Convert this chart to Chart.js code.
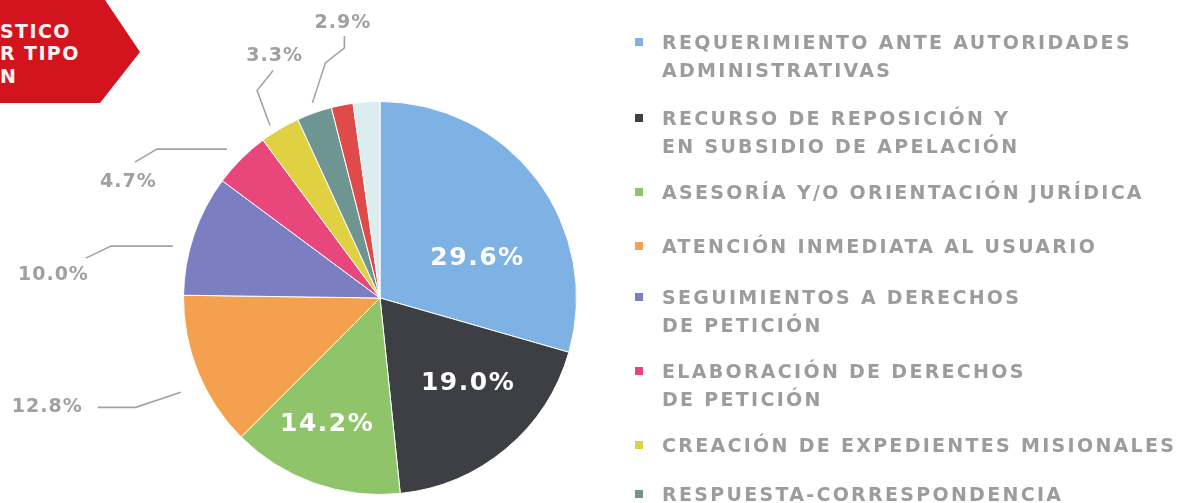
<!DOCTYPE html>
<html>
<head>
<meta charset="utf-8">
<script src="https://cdn.jsdelivr.net/npm/chart.js@4"></script>
<style>
  html, body { margin: 0; padding: 0; background: #ffffff; }
  body { width: 1197px; height: 503px; position: relative; overflow: hidden; font-family: 'DejaVu Sans', sans-serif; }
  #chartWrap { position: absolute; left: 0; top: 0; width: 1197px; height: 503px; }
  #banner {
    position: absolute; left: 0; top: 0; width: 140px; height: 103px;
    background: #d3141e;
    clip-path: polygon(0 0, 105px 0, 140px 52px, 100px 103px, 0 103px);
  }
  #banner div { position: absolute; left: 0; color: #fdf2f2; font-weight: bold; font-size: 19px; line-height: 22px; letter-spacing: 1.4px; }
  .legend-item { position: absolute; left: 635px; }
  .legend-item .sw { position: absolute; left: 0; top: 10px; width: 8px; height: 8px; }
  .legend-item .tx { position: absolute; left: 27px; top: 0; white-space: nowrap; color: #9c9c9c; font-weight: bold; font-size: 19px; line-height: 28px; letter-spacing: 2.3px; }
</style>
</head>
<body>
<div id="chartWrap"><canvas id="pieChart"></canvas></div>
<div id="banner">
  <div style="top:20px">STICO</div>
  <div style="top:42px">R TIPO</div>
  <div style="top:65px">N</div>
</div>
<div id="legend"></div>
<script>
// datos
const categorias = [
    ['REQUERIMIENTO ANTE AUTORIDADES', 'ADMINISTRATIVAS'],
    ['RECURSO DE REPOSICIÓN Y', 'EN SUBSIDIO DE APELACIÓN'],
    ['ASESORÍA Y/O ORIENTACIÓN JURÍDICA'],
    ['ATENCIÓN INMEDIATA AL USUARIO'],
    ['SEGUIMIENTOS A DERECHOS', 'DE PETICIÓN'],
    ['ELABORACIÓN DE DERECHOS', 'DE PETICIÓN'],
    ['CREACIÓN DE EXPEDIENTES MISIONALES'],
    ['RESPUESTA-CORRESPONDENCIA'],
    null,
    null
];
const porcentajes = [29.6, 19.0, 14.2, 12.8, 10.0, 4.7, 3.3, 2.9, 1.8, 2.2];

const colores = ['#7eb2e4', '#3e3f45', '#8fc46b', '#f4a14f', '#7b7fc1', '#e9467b', '#e0d143', '#6f9593', '#e04a48', '#dcecef'];

// posicion de las etiquetas internas (desplazamiento desde el centro del sector)
const etiquetasInternas = {
    0: { dx: 19, dy: 20 },
    1: { dx: 25, dy: 10 },
    2: { dx: -20, dy: 34 }
};

// lineas guia de las etiquetas externas
const etiquetasExternas = {
    3: { t: 0.43, gap: 24, pts: [[-45, 15], [-83, 15]], label: [-98, 15], align: 'right' },
    4: { t: 0.37, gap: 17, pts: [[-62, 0], [-87, 12]], label: [-84, 29], align: 'right' },
    5: { t: 0.45, gap: 17, pts: [[-70, 0], [-92, 13]], label: [-98.5, 33], align: 'center' },
    6: { t: 0.34, gap: 8, pts: [[-13, -35], [3, -55]], label: [4.5, -69], align: 'center' },
    7: { t: 0.54, gap: 10, pts: [[13, -40], [32, -55], [32, -67]], label: [30.5, -80], align: 'center' }
};

const legendTops = [28, 104, 178, 232, 283, 357, 431, 480];

const legendEl = document.getElementById('legend');
categorias.forEach(function(lineas, i) {
    if (!lineas) return;
    const item = document.createElement('div');
    item.className = 'legend-item';
    item.style.top = legendTops[i] + 'px';
    const sw = document.createElement('div');
    sw.className = 'sw';
    sw.style.background = colores[i];
    const tx = document.createElement('div');
    tx.className = 'tx';
    tx.innerHTML = lineas.join('<br>');
    item.appendChild(sw);
    item.appendChild(tx);
    legendEl.appendChild(item);
});

const fmt = function(v) { return v.toFixed(1) + '%'; };

const labelsPlugin = {
    id: 'labelsPlugin',
    afterDatasetsDraw(chart) {
        const ctx = chart.ctx;
        const meta = chart.getDatasetMeta(0);
        ctx.save();
        ctx.textBaseline = 'middle';

        // etiquetas dentro del pastel
        ctx.fillStyle = '#ffffff';
        ctx.font = 'bold 25px "DejaVu Sans"';
        ctx.letterSpacing = '1.5px';
        ctx.textAlign = 'center';
        Object.keys(etiquetasInternas).forEach(function(k) {
            const arc = meta.data[k];
            const p = arc.tooltipPosition();
            const o = etiquetasInternas[k];
            ctx.fillText(fmt(porcentajes[k]), p.x + o.dx, p.y + o.dy);
        });

        // etiquetas externas con linea guia
        ctx.strokeStyle = '#a3a3a3';
        ctx.lineWidth = 1.6;
        ctx.fillStyle = '#a0a0a0';
        ctx.font = 'bold 19px "DejaVu Sans"';
        ctx.letterSpacing = '1px';
        Object.keys(etiquetasExternas).forEach(function(k) {
            const arc = meta.data[k];
            const props = arc.getProps(['x', 'y', 'startAngle', 'endAngle', 'outerRadius'], true);
            const c = etiquetasExternas[k];
            const ang = props.startAngle + c.t * (props.endAngle - props.startAngle);
            const r = props.outerRadius + c.gap;
            const ax = props.x + r * Math.cos(ang);
            const ay = props.y + r * Math.sin(ang);
            ctx.beginPath();
            ctx.moveTo(ax, ay);
            c.pts.forEach(function(p) { ctx.lineTo(ax + p[0], ay + p[1]); });
            ctx.stroke();
            ctx.textAlign = c.align;
            ctx.fillText(fmt(porcentajes[k]), ax + c.label[0], ay + c.label[1]);
        });
        ctx.restore();
    }
};

new Chart(document.getElementById('pieChart'), {
    type: 'pie',
    data: {
        labels: categorias.map(function(l, i) { return l ? l.join(' ') : 'sin nombre ' + i; }),
        datasets: [{
            data: porcentajes,
            backgroundColor: colores,
            borderColor: '#ffffff',
            borderWidth: 1,
            hoverOffset: 0
        }]
    },
    options: {
        responsive: true,
        maintainAspectRatio: false,
        animation: false,
        events: [],
        layout: { padding: { left: 183, top: 101, right: 620, bottom: 8 } },
        plugins: {
            legend: { display: false },
            tooltip: { enabled: false }
        }
    },
    plugins: [labelsPlugin]
});
</script>
</body>
</html>
